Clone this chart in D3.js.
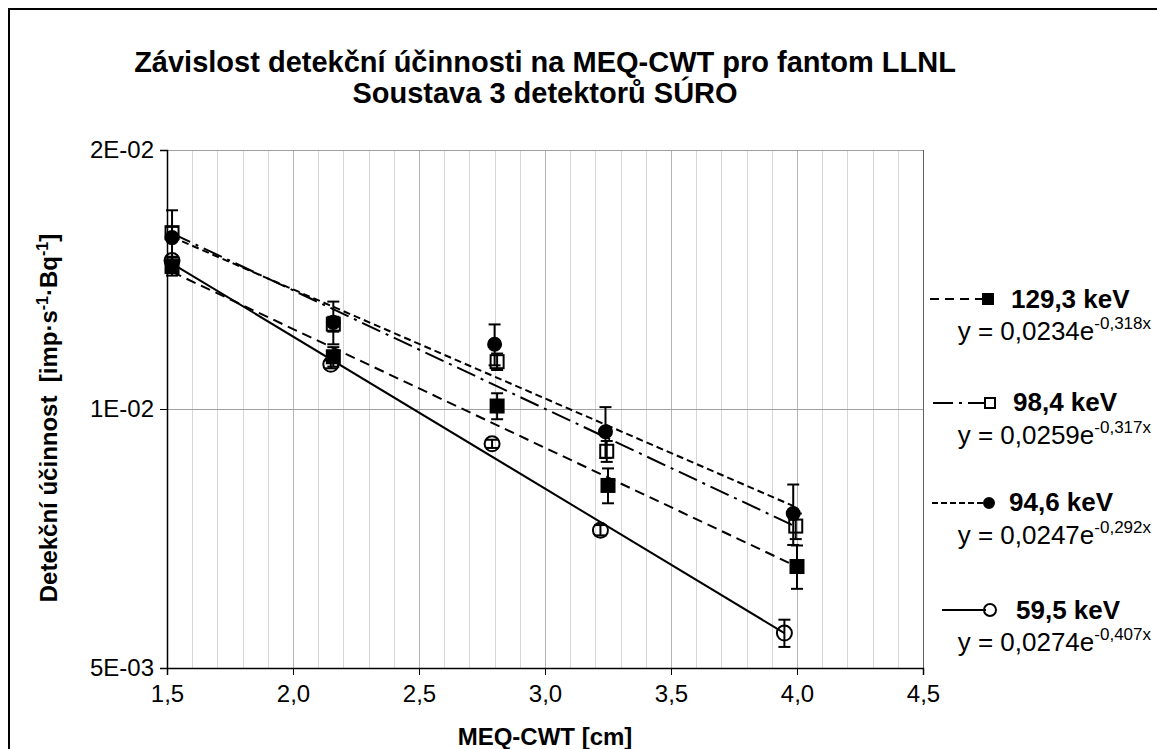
<!DOCTYPE html>
<html>
<head>
<meta charset="utf-8">
<script src="https://cdn.jsdelivr.net/npm/d3@7"></script>
<style>
    body { margin: 0; background: #fff; }
    svg text { font-family: "Liberation Sans", Arial, sans-serif; fill: #000; }
</style>
</head>
<body>
<div id="chart"></div>
<script>
// ============================================
// Detection efficiency vs MEQ-CWT (LLNL phantom)
// ============================================

// --- data ---
const xTicks = [1.5, 2.0, 2.5, 3.0, 3.5, 4.0, 4.5];
const xTickLabels = ['1,5', '2,0', '2,5', '3,0', '3,5', '4,0', '4,5'];
const yTicks = [0.005, 0.01, 0.02];
const yTickLabels = ['5E-03', '1E-02', '2E-02'];

const seriesNames = ['129,3 keV', '98,4 keV', '94,6 keV', '59,5 keV'];

const x129 = [1.52, 2.16, 2.81, 3.25, 4.00];
const y129 = [0.01464, 0.01150, 0.01008, 0.00815, 0.00656];
const err129 = [0.00035, 0.00030, 0.00035, 0.00038, 0.00038];

const x98 = [1.52, 2.16, 2.81, 3.245, 3.995];
const y98 = [0.01603, 0.01255, 0.01135, 0.00893, 0.00731];
const err98 = [0.00025, 0.00025, 0.00025, 0.00025, 0.00025];

const x94 = [1.52, 2.16, 2.80, 3.24, 3.985];
const y94 = [0.01582, 0.01261, 0.01189, 0.00941, 0.00756];
const err94 = [0.00120, 0.00072, 0.00065, 0.00064, 0.00061];

const x59 = [1.52, 2.15, 2.79, 3.22, 3.95];
const y59 = [0.01488, 0.01127, 0.00911, 0.00723, 0.00549];
const err59 = [0.00015, 0.00012, 0.00010, 0.00010, 0.00020];

// exponential trendlines y = a * e^(b x), as printed on the chart
const trendA = [0.0234, 0.0259, 0.0247, 0.0274];
const trendB = [-0.318, -0.317, -0.292, -0.407];
const trendText = ['0,0234', '0,0259', '0,0247', '0,0274'];
const trendExpText = ['-0,318x', '-0,317x', '-0,292x', '-0,407x'];

// --- layout ---
const W = 1157, H = 749;
const plot = { left: 167, top: 150, right: 923, bottom: 668 };

const series = [
    { name: seriesNames[0], xs: x129, ys: y129, err: err129, marker: 'square', filled: true, dash: '10,6' },
    { name: seriesNames[1], xs: x98, ys: y98, err: err98, marker: 'square', filled: false, dash: '20,6,3,6' },
    { name: seriesNames[2], xs: x94, ys: y94, err: err94, marker: 'circle', filled: true, dash: '7,4' },
    { name: seriesNames[3], xs: x59, ys: y59, err: err59, marker: 'circle', filled: false, dash: null }
];

const svg = d3.select('#chart').append('svg')
    .attr('width', W)
    .attr('height', H);

svg.append('rect').attr('width', W).attr('height', H).attr('fill', '#fff');

// outer chart border (only left and top are inside the picture)
svg.append('rect')
    .attr('x', 9).attr('y', 9)
    .attr('width', W + 20).attr('height', H + 20)
    .attr('fill', 'none')
    .attr('stroke', '#000')
    .attr('stroke-width', 2);

const x = d3.scaleLinear().domain([1.5, 4.5]).range([plot.left, plot.right]);
const y = d3.scaleLog().domain([0.005, 0.02]).range([plot.bottom, plot.top]);

// --- gridlines ---
const grid = svg.append('g');
const minorX = d3.range(15, 46).map(d => d / 10);
grid.selectAll('line.minor')
    .data(minorX.filter(d => Math.round(d * 10) % 5 !== 0))
    .enter().append('line')
    .attr('x1', d => Math.round(x(d)) + 0.5).attr('x2', d => Math.round(x(d)) + 0.5)
    .attr('y1', plot.top).attr('y2', plot.bottom)
    .attr('stroke', '#d6d6d6');
grid.selectAll('line.major')
    .data(xTicks.slice(1, -1))
    .enter().append('line')
    .attr('x1', d => Math.round(x(d)) + 0.5).attr('x2', d => Math.round(x(d)) + 0.5)
    .attr('y1', plot.top).attr('y2', plot.bottom)
    .attr('stroke', '#b4b4b4');
grid.selectAll('line.hgrid')
    .data(yTicks.slice(1))
    .enter().append('line')
    .attr('x1', plot.left).attr('x2', plot.right)
    .attr('y1', d => Math.round(y(d)) + 0.5).attr('y2', d => Math.round(y(d)) + 0.5)
    .attr('stroke', '#a0a0a0');
// right edge of plot area
grid.append('line')
    .attr('x1', plot.right + 0.5).attr('x2', plot.right + 0.5)
    .attr('y1', plot.top).attr('y2', plot.bottom)
    .attr('stroke', '#606060');

// --- axes ---
const xAxis = d3.axisBottom(x)
    .tickValues(xTicks)
    .tickFormat((d, i) => xTickLabels[i])
    .tickSize(7)
    .tickPadding(10);
const gx = svg.append('g')
    .attr('transform', `translate(0,${plot.bottom})`)
    .call(xAxis);

const yAxis = d3.axisLeft(y)
    .tickValues(yTicks)
    .tickFormat((d, i) => yTickLabels[i])
    .tickSize(7)
    .tickPadding(6);
const gy = svg.append('g')
    .attr('transform', `translate(${plot.left},0)`)
    .call(yAxis);

[gx, gy].forEach(g => {
    g.select('.domain').attr('stroke', '#000').attr('stroke-width', 1.5);
    g.selectAll('.tick line').attr('stroke', '#000');
    g.selectAll('.tick text')
        .attr('font-size', 24)
        .attr('font-family', '"Liberation Sans", Arial, sans-serif')
        .attr('fill', '#000');
});

// --- trendlines ---
const trendGroup = svg.append('g');
series.forEach((s, i) => {
    const x0 = d3.min(s.xs), x1 = d3.max(s.xs);
    const pts = [x0, x1].map(v => [x(v), y(trendA[i] * Math.exp(trendB[i] * v))]);
    trendGroup.append('line')
        .attr('x1', pts[0][0]).attr('y1', pts[0][1])
        .attr('x2', pts[1][0]).attr('y2', pts[1][1])
        .attr('stroke', '#000')
        .attr('stroke-width', 2)
        .attr('stroke-dasharray', s.dash);
});

// --- error bars ---
const errGroup = svg.append('g').attr('stroke', '#000').attr('stroke-width', 2);
series.forEach(s => {
    s.xs.forEach((xv, j) => {
        const cx = x(xv);
        const top = y(s.ys[j] + s.err[j]);
        const bot = y(s.ys[j] - s.err[j]);
        errGroup.append('line').attr('x1', cx).attr('x2', cx).attr('y1', top).attr('y2', bot);
        errGroup.append('line').attr('x1', cx - 6).attr('x2', cx + 6).attr('y1', top).attr('y2', top);
        errGroup.append('line').attr('x1', cx - 6).attr('x2', cx + 6).attr('y1', bot).attr('y2', bot);
    });
});

// --- markers ---
function drawMarker(g, s, cx, cy, size) {
    if (s.marker === 'square') {
        g.append('rect')
            .attr('x', cx - size / 2).attr('y', cy - size / 2)
            .attr('width', size).attr('height', size)
            .attr('fill', s.filled ? '#000' : 'none')
            .attr('stroke', '#000')
            .attr('stroke-width', 2);
    } else {
        g.append('circle')
            .attr('cx', cx).attr('cy', cy)
            .attr('r', s.filled ? size / 2 : size / 2 + 1)
            .attr('fill', s.filled ? '#000' : 'none')
            .attr('stroke', '#000')
            .attr('stroke-width', 2);
    }
}

const markerGroup = svg.append('g');
[1, 2, 0, 3].forEach(i => {
    const s = series[i];
    s.xs.forEach((xv, j) => drawMarker(markerGroup, s, x(xv), y(s.ys[j]), 13));
});

// --- legend with trendline equations ---
const legendRows = [
    { lineX0: 930, lineX1: 984, lineY: 299, markerX: 988, labelX: 1011, labelY: 308, eqY: 340 },
    { lineX0: 933, lineX1: 984, lineY: 403, markerX: 990, labelX: 1013, labelY: 411, eqY: 444 },
    { lineX0: 932, lineX1: 985, lineY: 503, markerX: 989, labelX: 1009, labelY: 511, eqY: 544 },
    { lineX0: 942, lineX1: 986, lineY: 610, markerX: 990, labelX: 1016, labelY: 619, eqY: 651 }
];
const legendDash = ['9,6', '20,6,3,6,6,0', '6,3', null];

const legend = svg.append('g');
series.forEach((s, i) => {
    const r = legendRows[i];
    legend.append('line')
        .attr('x1', r.lineX0).attr('x2', r.lineX1)
        .attr('y1', r.lineY).attr('y2', r.lineY)
        .attr('stroke', '#000')
        .attr('stroke-width', 2)
        .attr('stroke-dasharray', legendDash[i]);
    drawMarker(legend, s, r.markerX, r.lineY, 10);

    legend.append('text')
        .attr('x', r.labelX).attr('y', r.labelY)
        .attr('font-size', 26)
        .attr('font-weight', 'bold')
        .text(s.name);

    const eq = legend.append('text')
        .attr('x', 1151).attr('y', r.eqY)
        .attr('text-anchor', 'end')
        .attr('font-size', 26);
    eq.append('tspan').text(`y = ${trendText[i]}e`);
    eq.append('tspan').attr('dy', -11).attr('font-size', 17).text(trendExpText[i]);
});

// --- titles ---
svg.append('text')
    .attr('x', 545).attr('y', 72)
    .attr('text-anchor', 'middle')
    .attr('font-size', 29)
    .attr('font-weight', 'bold')
    .text('Závislost detekční účinnosti na MEQ-CWT pro fantom LLNL');
svg.append('text')
    .attr('x', 545).attr('y', 103)
    .attr('text-anchor', 'middle')
    .attr('font-size', 29)
    .attr('font-weight', 'bold')
    .text('Soustava 3 detektorů SÚRO');

svg.append('text')
    .attr('x', 545).attr('y', 745)
    .attr('text-anchor', 'middle')
    .attr('font-size', 24)
    .attr('font-weight', 'bold')
    .text('MEQ-CWT [cm]');

const yTitle = svg.append('text')
    .attr('transform', 'translate(57,418) rotate(-90)')
    .attr('text-anchor', 'middle')
    .attr('font-size', 24)
    .attr('font-weight', 'bold');
yTitle.append('tspan').text('Detekční účinnost\u00a0 [imp·s');
yTitle.append('tspan').attr('dy', -9).attr('font-size', 16).text('-1');
yTitle.append('tspan').attr('dy', 9).text('·Bq');
yTitle.append('tspan').attr('dy', -9).attr('font-size', 16).text('-1');
yTitle.append('tspan').attr('dy', 9).text(']');
</script>
</body>
</html>
